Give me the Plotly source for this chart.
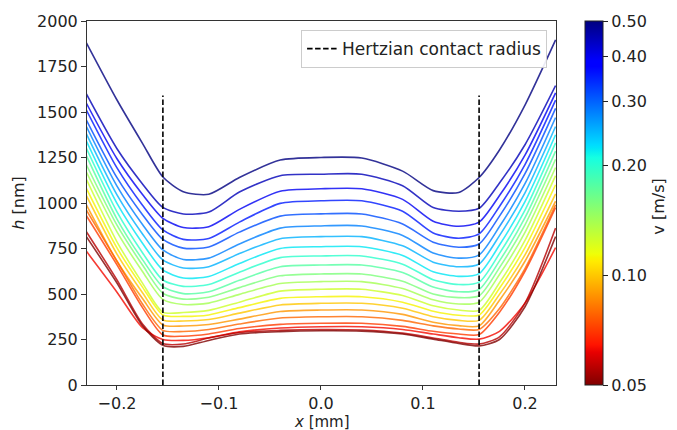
import numpy as np
import plotly.graph_objects as go
from plotly.colors import sample_colorscale

# ---------------- data ----------------
X_MM = [-0.23, -0.2, -0.175, -0.155, -0.135, -0.11, -0.08, -0.04, 0.0,
        0.04, 0.08, 0.11, 0.135, 0.155, 0.175, 0.2, 0.23]

VELOCITIES = [0.500, 0.446, 0.397, 0.354, 0.315, 0.281, 0.251, 0.223, 0.199,
              0.177, 0.158, 0.141, 0.126, 0.112, 0.100, 0.089, 0.079, 0.071,
              0.063, 0.056, 0.050]

H_01 = [1880, 1566, 1328, 1143, 1062, 1048, 1140, 1236, 1250, 1247, 1175, 1068, 1058, 1140, 1291, 1538, 1896]
H_02 = [1599, 1298, 1105, 976, 940, 950, 1060, 1150, 1158, 1158, 1095, 975, 955, 971, 1110, 1320, 1645]
H_03 = [1548, 1243, 1047, 916, 865, 870, 965, 1065, 1078, 1078, 1020, 900, 872, 895, 1041, 1263, 1605]
H_04 = [1511, 1193, 988, 852, 800, 805, 895, 998, 1012, 1012, 955, 835, 806, 830, 981, 1211, 1565]
H_05 = [1456, 1139, 936, 800, 752, 758, 840, 928, 940, 940, 885, 785, 757, 775, 928, 1161, 1520]
H_06 = [1420, 1093, 882, 742, 690, 697, 775, 862, 874, 874, 822, 725, 697, 715, 871, 1106, 1470]
H_07 = [1380, 1045, 830, 687, 643, 650, 722, 804, 815, 815, 765, 675, 650, 665, 821, 1056, 1420]
H_08 = [1340, 998, 779, 632, 588, 596, 668, 750, 760, 760, 712, 622, 597, 612, 769, 1007, 1375]
H_09 = [1300, 951, 727, 577, 542, 552, 620, 700, 709, 709, 664, 578, 552, 565, 723, 961, 1330]
H_10 = [1260, 912, 689, 540, 502, 512, 575, 650, 659, 659, 618, 538, 512, 525, 682, 919, 1285]
H_11 = [1210, 878, 659, 504, 472, 482, 535, 600, 610, 610, 570, 500, 480, 490, 645, 880, 1240]
H_12 = [1170, 841, 624, 470, 442, 450, 498, 558, 568, 568, 530, 468, 445, 455, 607, 839, 1195]
H_13 = [1130, 787, 560, 400, 398, 410, 455, 516, 526, 526, 492, 435, 412, 410, 562, 794, 1150]
H_14 = [1080, 753, 538, 385, 377, 385, 425, 476, 485, 485, 455, 405, 383, 385, 532, 755, 1100]
H_15 = [1040, 719, 507, 357, 352, 360, 395, 440, 449, 449, 422, 375, 355, 355, 498, 715, 1050]
H_16 = [990, 680, 475, 330, 324, 332, 362, 404, 412, 412, 388, 345, 326, 325, 466, 680, 1010]
H_17 = [960, 680, 445, 300, 294, 305, 335, 368, 375, 375, 355, 325, 308, 305, 420, 640, 990]
H_18 = [930, 660, 425, 275, 268, 280, 310, 333, 339, 339, 322, 295, 280, 277, 400, 625, 975]
H_19 = [735, 510, 315, 250, 245, 260, 292, 313, 320, 320, 305, 280, 260, 252, 295, 450, 755]
H_20 = [842, 577, 335, 228, 225, 258, 288, 300, 305, 302, 285, 258, 235, 225, 265, 450, 862]
H_21 = [815, 560, 325, 218, 212, 245, 280, 293, 298, 296, 280, 252, 228, 215, 250, 430, 815]

PROFILES = [H_01, H_02, H_03, H_04, H_05, H_06, H_07, H_08, H_09, H_10, H_11,
            H_12, H_13, H_14, H_15, H_16, H_17, H_18, H_19, H_20, H_21]

R_HERTZ = 0.155
DASH_TOP = 1590
V_MIN, V_MAX = 0.05, 0.50
CBAR_TICKS = [0.05, 0.10, 0.20, 0.30, 0.40, 0.50]
CBAR_LABELS = ["0.05", "0.10", "0.20", "0.30", "0.40", "0.50"]
X_TICKS = [-0.2, -0.1, 0.0, 0.1, 0.2]
X_LABELS = ["\u22120.2", "\u22120.1", "0.0", "0.1", "0.2"]

# matplotlib "jet" reversed (high velocity = blue)
JET_R = [
    [0.00, "rgb(128,0,0)"], [0.09, "rgb(232,0,0)"], [0.11, "rgb(255,19,0)"],
    [0.34, "rgb(255,236,0)"], [0.35, "rgb(247,245,0)"], [0.36, "rgb(239,255,8)"],
    [0.625, "rgb(21,255,226)"], [0.65, "rgb(0,230,247)"], [0.66, "rgb(0,219,255)"],
    [0.875, "rgb(0,0,255)"], [0.89, "rgb(0,0,255)"], [1.00, "rgb(0,0,128)"],
]

FONT = "DejaVu Sans"
lmin, lmax = np.log10(V_MIN), np.log10(V_MAX)

fig = go.Figure()

for v, h in zip(VELOCITIES, PROFILES):
    t = (np.log10(v) - lmin) / (lmax - lmin)
    t = float(min(max(t, 0.0), 1.0))
    col = sample_colorscale(JET_R, [t])[0]
    fig.add_trace(go.Scatter(
        x=X_MM, y=h, mode="lines",
        line=dict(color=col, width=1.6, shape="spline", smoothing=0.7),
        opacity=0.8, showlegend=False, hoverinfo="skip"))

for i, xr in enumerate([-R_HERTZ, R_HERTZ]):
    fig.add_trace(go.Scatter(
        x=[xr, xr], y=[0, DASH_TOP], mode="lines",
        line=dict(color="black", width=1.6, dash="5.5px,2.5px"),
        name="Hertzian contact radius", showlegend=(i == 0), hoverinfo="skip"))

fig.add_trace(go.Scatter(
    x=[None], y=[None], mode="markers", showlegend=False, hoverinfo="skip",
    marker=dict(
        color=[lmin], colorscale=JET_R, cmin=lmin, cmax=lmax, showscale=True,
        colorbar=dict(
            x=(585 - 87) / 469, xanchor="left", xpad=0,
            y=0.5, yanchor="middle", len=1.0, lenmode="fraction", ypad=0,
            thickness=18, outlinecolor="#222", outlinewidth=1,
            tickvals=[float(np.log10(c)) for c in CBAR_TICKS], ticktext=CBAR_LABELS,
            ticks="outside", ticklen=5, tickcolor="#222",
            tickfont=dict(family=FONT, size=16, color="#222"),
        ))))

axis_common = dict(
    showgrid=False, zeroline=False, showline=True, linecolor="#333", linewidth=1,
    mirror=True, ticks="outside", tickcolor="#333",
    tickfont=dict(family=FONT, size=16, color="#222"))

# page has an 8px body margin: figure is 669x422 placed at (8, 8)
fig.update_layout(
    width=669, height=422,
    margin=dict(l=79, r=121, t=13, b=45, autoexpand=False),
    plot_bgcolor="white", paper_bgcolor="white",
    font=dict(family=FONT, size=16, color="#222"),
    xaxis=dict(range=[-0.2294, 0.2304], tickvals=X_TICKS, ticktext=X_LABELS,
               ticklen=4, automargin=False, **axis_common),
    yaxis=dict(range=[0, 2000], tickvals=list(range(0, 2001, 250)),
               title=dict(text="<i>h</i> [nm]", standoff=8,
                          font=dict(family=FONT, size=16)),
               ticklen=5, automargin=False, **axis_common),
    legend=dict(x=0.981, y=0.975, xanchor="right", yanchor="top",
                bordercolor="#cccccc", borderwidth=1, bgcolor="rgba(255,255,255,0.9)",
                font=dict(family=FONT, size=17, color="#222")),
    annotations=[
        dict(text="v [m/s]", textangle=-90, showarrow=False,
             xref="paper", yref="paper", x=(659 - 87) / 469, y=0.49,
             xanchor="center", yanchor="middle",
             font=dict(family=FONT, size=16, color="#222")),
        dict(text="<i>x</i> [mm]", showarrow=False,
             xref="paper", yref="paper", x=0.5, y=(385 - 411) / 364,
             xanchor="center", yanchor="top",
             font=dict(family=FONT, size=15, color="#222")),
    ],
)

fig.write_html("out.html")
